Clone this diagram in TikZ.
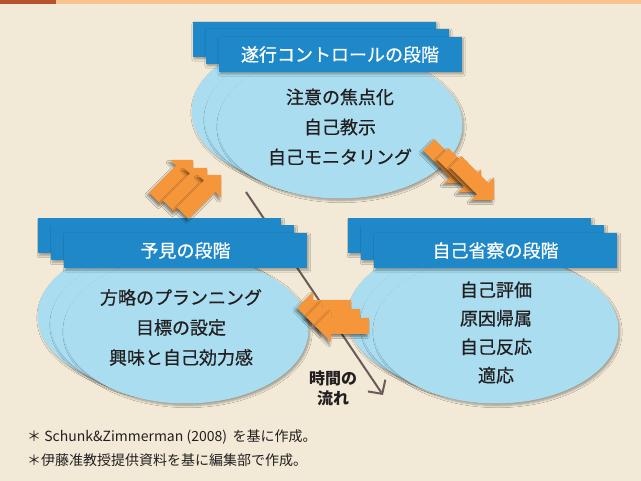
\documentclass[tikz,border=0pt]{standalone}
\usepackage{fontspec}
\setmainfont{Noto Sans CJK JP}
\newfontfamily\jp{Noto Sans CJK JP}
\newfontfamily\jpmed{Noto Sans CJK JP}[FakeBold=0.6]
\usetikzlibrary{shapes.geometric,shadows.blur,arrows.meta}
\definecolor{bgcream}{HTML}{F2EAD7}
\definecolor{stripdark}{HTML}{B8522C}
\definecolor{striplight}{HTML}{F8C48E}
\definecolor{bannerblue}{HTML}{1E88C9}
\definecolor{bubblefill}{HTML}{A9DDEF}
\definecolor{textdark}{HTML}{231F20}
\definecolor{arroworange}{HTML}{F5963A}
\definecolor{linegray}{HTML}{6A5A58}
\tikzset{
  shd/.style={blur shadow={shadow xshift=1.5pt, shadow yshift=-2pt, shadow blur steps=6, shadow opacity=35}},
  banner/.style={rectangle, fill=bannerblue, minimum width=243pt, minimum height=35pt, inner sep=0pt, shd,
    text=white, font=\jpmed\fontsize{18}{18}\selectfont},
  bubble/.style={ellipse, fill=bubblefill, minimum width=245pt, minimum height=147pt, inner sep=0pt, shd},
  body/.style={align=center, text=textdark, font=\jpmed\fontsize{18}{30}\selectfont, inner sep=0pt},
  orangearrow/.style={fill=arroworange, blur shadow={shadow xshift=-2pt, shadow yshift=-2.5pt, shadow blur steps=5, shadow opacity=45}},
  timeline/.style={draw=linegray, line width=2pt, -{Straight Barb[length=10pt,width=21pt,line width=2pt]}},
  foot/.style={anchor=west, text=textdark, font=\jp\fontsize{14}{14}\selectfont, inner sep=0pt}
}
\newcommand\blockarrow[3]{%
  \fill[orangearrow, shift={(#1,#2)}, rotate=#3]
    (0,0) -- (-16,16) -- (-16,8) -- (-54,8) -- (-54,-8) -- (-16,-8) -- (-16,-16) -- cycle;}
\begin{document}
\begin{tikzpicture}[x=1pt,y=-1pt]
  \useasboundingbox (0,0) rectangle (641,481);
  \fill[bgcream] (0,0) rectangle (641,481);
  \fill[striplight] (56,0) rectangle (641,4);
  \fill[stripdark] (0,0) rectangle (56,4);

  % time flow line
  \coordinate (t0) at (246,192);
  \coordinate (t1) at (383,395);
  \draw[timeline] (t0) -- (t1);

  % top group
  \node[bubble] (topE1) at (314,111) {};
  \node[bubble] (topE2) at (327,118) {};
  \node[bubble] (topE3) at (340,125) {};
  \node[banner] (topB1) at (314,39.5) {};
  \node[banner] (topB2) at (327,46.5) {};
  \node[banner] (topB3) at (340,54.5) {遂行コントロールの段階};
  \node[body] (topT) at (340,127) {注意の焦点化\\自己教示\\自己モニタリング};

  % left group
  \node[bubble] (leftE1) at (160,316) {};
  \node[bubble] (leftE2) at (173,323) {};
  \node[bubble] (leftE3) at (186,330) {};
  \node[banner] (leftB1) at (159.5,236) {};
  \node[banner] (leftB2) at (172.5,243) {};
  \node[banner] (leftB3) at (185.5,250.5) {予見の段階};
  \node[body] (leftT) at (181,327.5) {方略のプランニング\\目標の設定\\興味と自己効力感};

  % right group
  \node[bubble] (rightE1) at (470,316) {};
  \node[bubble] (rightE2) at (483,323) {};
  \node[bubble] (rightE3) at (496,330) {};
  \node[banner] (rightB1) at (469.5,236) {};
  \node[banner] (rightB2) at (482.5,243) {};
  \node[banner] (rightB3) at (495.5,250.5) {自己省察の段階};
  \node[body, font=\jpmed\fontsize{18}{28.5}\selectfont] (rightT) at (496,332.5) {自己評価\\原因帰属\\自己反応\\適応};

  % orange arrows: foresight -> performance (NE)
  \blockarrow{193}{160}{45}
  \blockarrow{207}{168}{45}
  \blockarrow{221}{175}{45}
  % performance -> self-reflection (SE)
  \blockarrow{467}{183}{-45}
  \blockarrow{481}{192}{-45}
  \blockarrow{494}{200}{-45}
  % self-reflection -> foresight (W)
  \blockarrow{297}{308}{180}
  \blockarrow{306}{317}{180}
  \blockarrow{315}{326}{180}

  \node[align=center, text=textdark, font=\jp\bfseries\fontsize{16}{20}\selectfont, inner sep=0pt] (timeL) at (333,388) {時間の\\流れ};

  \node[foot] (f1) at (27,437) {＊ Schunk\&Zimmerman (2008)\hspace{0.4em}を基に作成。};
  \node[foot] (f2) at (27,460) {＊伊藤准教授提供資料を基に編集部で作成。};
\end{tikzpicture}
\end{document}
